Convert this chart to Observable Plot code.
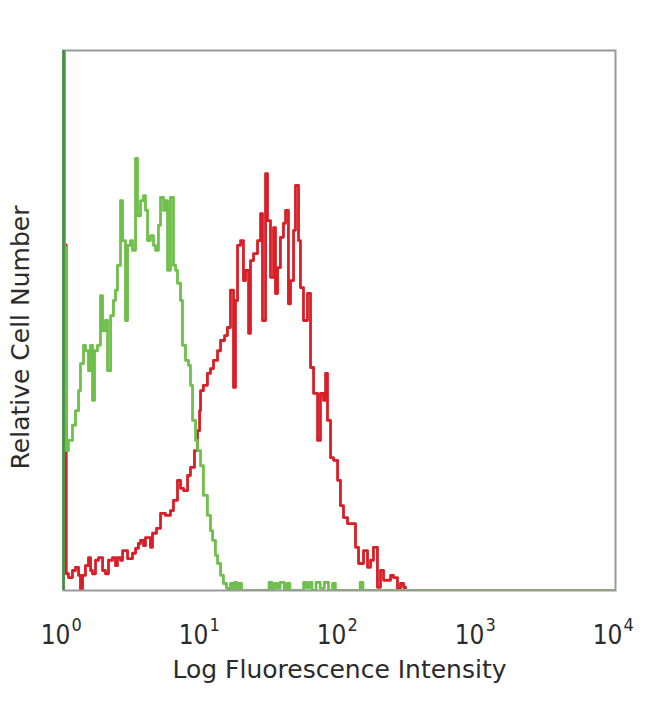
<!DOCTYPE html>
<html>
<head>
<meta charset="utf-8">
<script src="https://cdn.jsdelivr.net/npm/d3@7"></script>
<script src="https://cdn.jsdelivr.net/npm/@observablehq/plot@0.6"></script>
<style>
  html, body { margin: 0; padding: 0; background: #fff; }
  #chart svg { display: block; }
  .title-text { font-family: 'DejaVu Sans', sans-serif; font-stretch: normal; }
</style>
</head>
<body>
<div id="chart"></div>
<script>
// log10 fluorescence channel, relative cell number (0-100)
const greenHist = [
  [0.000,0],[0.000,120],[0.008,63.5],[0.020,25.9],[0.036,27.8],[0.065,30.6],[0.087,33.3],[0.109,37.0],
  [0.123,42.0],[0.145,45.4],[0.159,44.4],[0.181,40.7],[0.196,45.4],[0.210,35.2],[0.225,44.4],
  [0.246,45.4],[0.268,54.6],[0.283,48.1],[0.304,50.0],[0.319,40.7],[0.341,50.9],[0.362,53.7],
  [0.377,55.6],[0.391,60.2],[0.413,72.2],[0.428,64.8],[0.449,50.0],[0.464,63.9],[0.486,64.8],
  [0.500,63.0],[0.522,80.0],[0.536,69.4],[0.558,72.2],[0.580,73.1],[0.594,70.4],[0.609,64.8],
  [0.630,65.7],[0.652,63.9],[0.667,63.0],[0.688,67.6],[0.703,72.8],[0.725,70.4],[0.739,72.2],
  [0.754,59.3],[0.775,72.8],[0.797,60.2],[0.812,59.3],[0.826,56.9],[0.848,53.7],[0.862,45.4],
  [0.884,42.6],[0.906,41.7],[0.920,38.0],[0.935,31.5],[0.957,27.8],[0.971,25.9],[0.993,23.1],
  [1.014,17.6],[1.043,13.9],[1.065,11.1],[1.080,9.3],[1.101,6.5],[1.116,5.0],[1.138,2.8],
  [1.159,1.3],[1.181,0.4],[1.196,0],
  [1.210,1.3],[1.225,0],[1.240,1.5],[1.255,0],[1.270,1.3],[1.290,0],
  [1.490,1.5],[1.510,0],[1.530,1.3],[1.550,0.4],[1.570,1.5],[1.600,0],[1.620,1.3],[1.640,0],
  [1.740,1.5],[1.760,0.5],[1.780,1.5],[1.800,0],[1.830,1.5],[1.860,0.4],[1.890,1.5],[1.920,0],
  [1.950,1.3],[1.970,0],[2.150,1.5],[2.170,0],[4.000,0]
];
const redHist = [
  [0.000,0],[0.000,64],[0.020,3.1],[0.036,2.4],[0.065,3.7],[0.087,4.3],[0.109,2.8],[0.123,0],
  [0.138,2.8],[0.159,4.6],[0.181,6.1],[0.196,3.7],[0.210,3.1],[0.232,5.6],[0.254,6.1],
  [0.283,3.7],[0.304,3.1],[0.326,5.6],[0.355,6.1],[0.377,4.6],[0.391,6.1],[0.413,5.6],
  [0.428,7.4],[0.464,5.9],[0.500,6.9],[0.522,7.8],[0.543,8.7],[0.558,9.3],[0.580,8.3],
  [0.594,9.8],[0.630,8.0],[0.645,10.6],[0.674,11.5],[0.703,14.3],[0.739,13.9],[0.775,14.8],
  [0.797,16.7],[0.826,20.4],[0.848,18.9],[0.870,18.5],[0.899,21.3],[0.920,22.8],[0.949,25.9],
  [0.971,29.6],[0.986,33.3],[0.993,37.0],[1.014,38.0],[1.043,40.2],[1.065,41.1],[1.087,42.6],
  [1.116,44.4],[1.138,46.3],[1.167,47.2],[1.188,48.7],[1.210,55.6],[1.232,37.6],[1.246,53.7],
  [1.261,63.9],[1.283,64.8],[1.304,57.4],[1.319,59.3],[1.341,47.6],[1.355,61.1],[1.377,62.4],
  [1.406,64.8],[1.428,69.8],[1.442,50.0],[1.464,77.2],[1.478,68.5],[1.500,58.0],[1.522,67.2],
  [1.536,55.0],[1.551,59.8],[1.572,65.4],[1.594,68.0],[1.609,70.4],[1.630,53.1],[1.645,57.4],
  [1.667,66.7],[1.681,75.0],[1.703,64.8],[1.717,56.1],[1.739,50.0],[1.768,55.0],[1.790,41.3],
  [1.812,36.5],[1.841,27.8],[1.862,36.5],[1.884,35.2],[1.899,40.2],[1.913,31.5],[1.935,24.6],
  [1.957,24.1],[1.986,20.4],[2.007,15.7],[2.029,13.5],[2.058,12.4],[2.080,12.4],[2.116,8.0],
  [2.138,5.0],[2.174,7.4],[2.203,4.3],[2.225,5.6],[2.246,8.0],[2.275,0.6],[2.297,3.7],
  [2.319,1.9],[2.348,1.9],[2.370,2.8],[2.391,2.4],[2.420,0.4],[2.442,1.3],[2.464,0.6],
  [2.478,0],[4.000,0]
];
const tickValues = [1, 10, 100, 1000, 10000];
const tickBase = ["10", "10", "10", "10", "10"];
const tickExponents = ["0", "1", "2", "3", "4"];
const xTitle = "Log Fluorescence Intensity";
const yTitle = "Relative Cell Number";

const GREEN = "#6fc04a";
const RED = "#d81f28";
const TEXT = "#2b2b2b";

const chart = Plot.plot({
  width: 650,
  height: 704,
  marginLeft: 63,
  marginRight: 35,
  marginTop: 50,
  marginBottom: 114,
  style: {fontFamily: "'DejaVu Sans Condensed', 'DejaVu Sans', sans-serif", fontStretch: "condensed", background: "#fff"},
  x: {type: "log", domain: [1, 10000], axis: null},
  y: {domain: [0, 100], axis: null},
  marks: [
    Plot.line(redHist, {x: d => 10 ** d[0], y: d => d[1], stroke: RED, strokeWidth: 2.8, curve: "step-after", clip: true}),
    Plot.line(greenHist, {x: d => 10 ** d[0], y: d => d[1], stroke: GREEN, strokeWidth: 2.8, curve: "step-after", clip: true}),
    Plot.frame({stroke: "#9a9a9a", strokeWidth: 2}),
    Plot.ruleX([1], {stroke: "#3d8f3a", strokeWidth: 2.5}),
    Plot.text(tickValues, {x: d => d, frameAnchor: "bottom", lineAnchor: "bottom", textAnchor: "end", dx: 7, dy: 53, text: (d, i) => tickBase[i], fontSize: 26, fill: TEXT}),
    Plot.text(tickValues, {x: d => d, frameAnchor: "bottom", lineAnchor: "bottom", textAnchor: "start", dx: 8, dy: 40, text: (d, i) => tickExponents[i], fontSize: 18, fill: TEXT}),
    Plot.text([xTitle], {frameAnchor: "bottom", lineAnchor: "bottom", dy: 87, fontSize: 25, fill: TEXT, className: "title-text"}),
    Plot.text([yTitle], {frameAnchor: "left", textAnchor: "middle", lineAnchor: "middle", dx: -43, dy: 17, rotate: -90, fontSize: 25, fill: TEXT, className: "title-text"})
  ]
});
document.getElementById("chart").appendChild(chart);
</script>
</body>
</html>
